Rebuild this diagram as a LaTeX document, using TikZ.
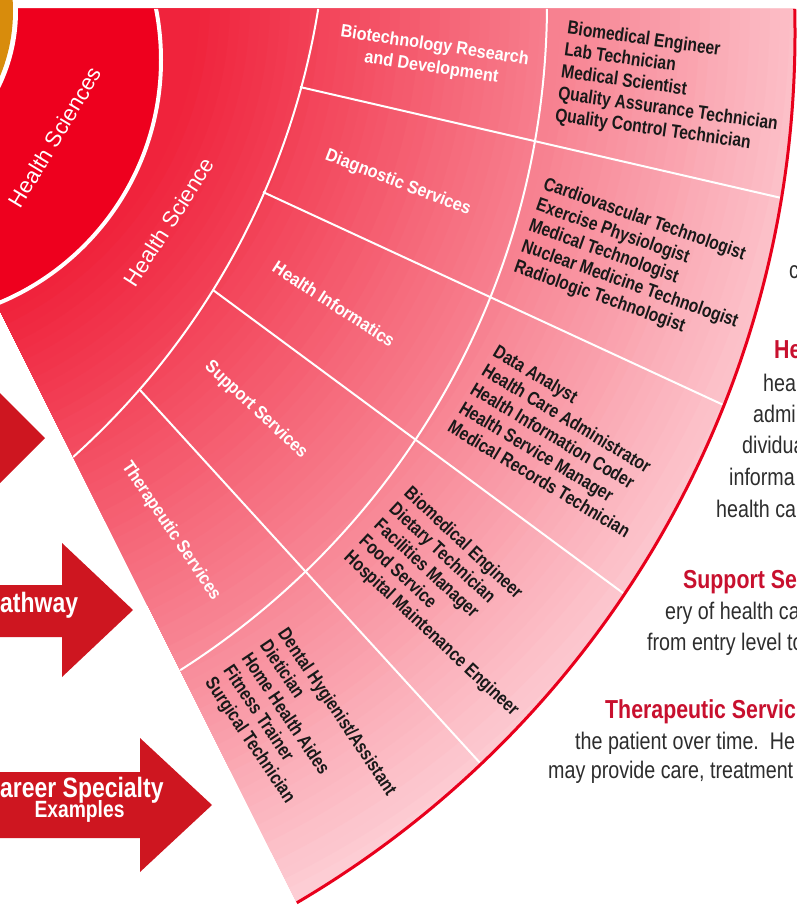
\documentclass[tikz,border=0pt]{standalone}
\usepackage{fontspec}
\setmainfont{Liberation Sans}
\newfontfamily\narrowfont{Liberation Sans}[FakeStretch=0.82]
\newfontfamily\labelfont{Liberation Sans}[FakeStretch=0.9]

\definecolor{fanred}{RGB}{240,35,60}
\definecolor{fanpink}{RGB}{253,205,212}
\definecolor{corered}{RGB}{238,0,30}
\definecolor{rimred}{RGB}{232,0,28}
\definecolor{arrowred}{RGB}{206,22,32}
\definecolor{headred}{RGB}{200,16,46}
\definecolor{bodygray}{RGB}{45,45,45}
\definecolor{hubgold}{RGB}{216,140,12}

\begin{document}
\begin{tikzpicture}[
    x=1pt, y=-1pt,
    ringlabel/.style={text=white, font=\fontsize{22}{26}\selectfont, inner sep=0pt},
    pathway/.style={text=white, font=\labelfont\bfseries\fontsize{18}{22}\selectfont, align=center, inner sep=0pt},
    career/.style={text=black!90, font=\narrowfont\bfseries\fontsize{19}{22}\selectfont, align=left, inner sep=0pt},
    heading/.style={text=headred, font=\narrowfont\bfseries\fontsize{26}{30}\selectfont, anchor=base west, inner sep=0pt},
    body/.style={text=bodygray, font=\narrowfont\fontsize{24}{29}\selectfont, anchor=base west, inner sep=0pt},
    banner/.style={text=white, font=\narrowfont\bfseries\fontsize{28}{32}\selectfont, inner sep=0pt},
    divider/.style={white, line width=2pt},
    blockarrow/.style={fill=arrowred}
]

\useasboundingbox (0,0) rectangle (796,909);
\fill[white] (0,0) rectangle (796,909);

% fan with the rings
\begin{scope}
  \clip (-151.4,9) -- (345.6,1000) -- (1200,1000) -- (1200,9) -- cycle;
  \clip (-213,33) circle[radius=1008];
  \foreach \r in {1060,1050,...,300} {
    \pgfmathtruncatemacro\mix{min(100,max(0,(\r-350)/6.5))}
    \fill[fanpink!\mix!fanred] (-150,0) circle[radius=\r];
  }
  \draw[divider] (300,87) -- (848.6,213.5);
  \draw[divider] (263,192) -- (807.8,444);
  \draw[divider] (213,290) -- (705,653.6);
  \draw[divider] (140,390) -- (512,798);
  \draw[divider] (-243,3) circle[radius=790];
  \draw[divider] (-439,-114) circle[radius=767];
  \fill[corered] (-102,60) circle[radius=263];
  \draw[white, line width=4pt] (-102,60) circle[radius=263];
\end{scope}

% outer rim
\begin{scope}
  \clip (-151.4,9) -- (345.6,1000) -- (1200,1000) -- (1200,9) -- cycle;
  \draw[rimred, line width=3pt] (-213,33) circle[radius=1008];
\end{scope}

% hub
\fill[white] (-156,11) circle[radius=174];
\fill[hubgold] (-156,11) circle[radius=169];

% block arrows
\fill[blockarrow] (-100,415) -- (-40,415) -- (-40,353) -- (45,438) -- (-40,523) -- (-40,461) -- (-100,461) -- cycle;
\fill[blockarrow] (-100,585) -- (62,585) -- (62,543) -- (133,610) -- (62,677) -- (62,637) -- (-100,637) -- cycle;
\fill[blockarrow] (-100,772) -- (140,772) -- (140,738) -- (212,805) -- (140,872) -- (140,838) -- (-100,838) -- cycle;

\node[banner, anchor=base west] (pathwaylabel) at (0,612) {athway};
\node[banner, anchor=base west] (specialtylabel) at (0,797) {areer Specialty};
\node[banner, font=\narrowfont\bfseries\fontsize{23.5}{26}\selectfont, anchor=base] (exampleslabel) at (79.5,817) {Examples};

% ring labels
\node[ringlabel, rotate=59] (sciences) at (55,137) {Health Sciences};
\node[ringlabel, rotate=57.5] (science) at (169,222) {Health Science};

% pathways
\node[pathway, rotate=-8.5] (biotech) at (433,57) {Biotechnology Research\\and Development};
\node[pathway, rotate=-21] (diagnostic) at (398,183) {Diagnostic Services};
\node[pathway, rotate=-33] (informatics) at (334,304) {Health Informatics};
\node[pathway, rotate=-43] (support) at (256,410) {Support Services};
\node[pathway, rotate=-56] (therapeutic) at (171,531) {Therapeutic Services};

% careers
\node[career, rotate=-8] (biotechjobs) at (671,88) {Biomedical Engineer\\Lab Technician\\Medical Scientist\\Quality Assurance Technician\\Quality Control Technician};
\node[career, rotate=-19.5] (diagnosticjobs) at (637,264) {Cardiovascular Technologist\\Exercise Physiologist\\Medical Technologist\\Nuclear Medicine Technologist\\Radiologic Technologist};
\node[career, rotate=-31] (informaticsjobs) at (562,441) {Data Analyst\\Health Care Administrator\\Health Information Coder\\Health Service Manager\\Medical Records Technician};
\node[career, rotate=-43] (supportjobs) at (461,602) {Biomedical Engineer\\Dietary Technician\\Facilities Manager\\Food Service\\Hospital Maintenance Engineer};
\node[career, rotate=-56] (therapeuticjobs) at (300,737) {Dental Hygienist/Assistant\\Dietician\\Home Health Aides\\Fitness Trainer\\Surgical Technician};

% text at the right
\node[body] (textc) at (789,278) {c};
\node[heading] (infohead) at (774,358) {He};
\node[body] (info1) at (763,391) {hea};
\node[body] (info2) at (753,422) {admi};
\node[body] (info3) at (742,453) {dividua};
\node[body] (info4) at (729,485) {informa};
\node[body] (info5) at (716,517) {health ca};
\node[heading] (supporthead) at (683,588) {Support Se};
\node[body] (support1) at (665,619) {ery of health ca};
\node[body] (support2) at (647,650) {from entry level to};
\node[heading] (therapyhead) at (605,718) {Therapeutic Servic};
\node[body] (therapy1) at (575,749) {the patient over time.\ \ He};
\node[body] (therapy2) at (548,778) {may provide care, treatment};

\end{tikzpicture}
\end{document}
